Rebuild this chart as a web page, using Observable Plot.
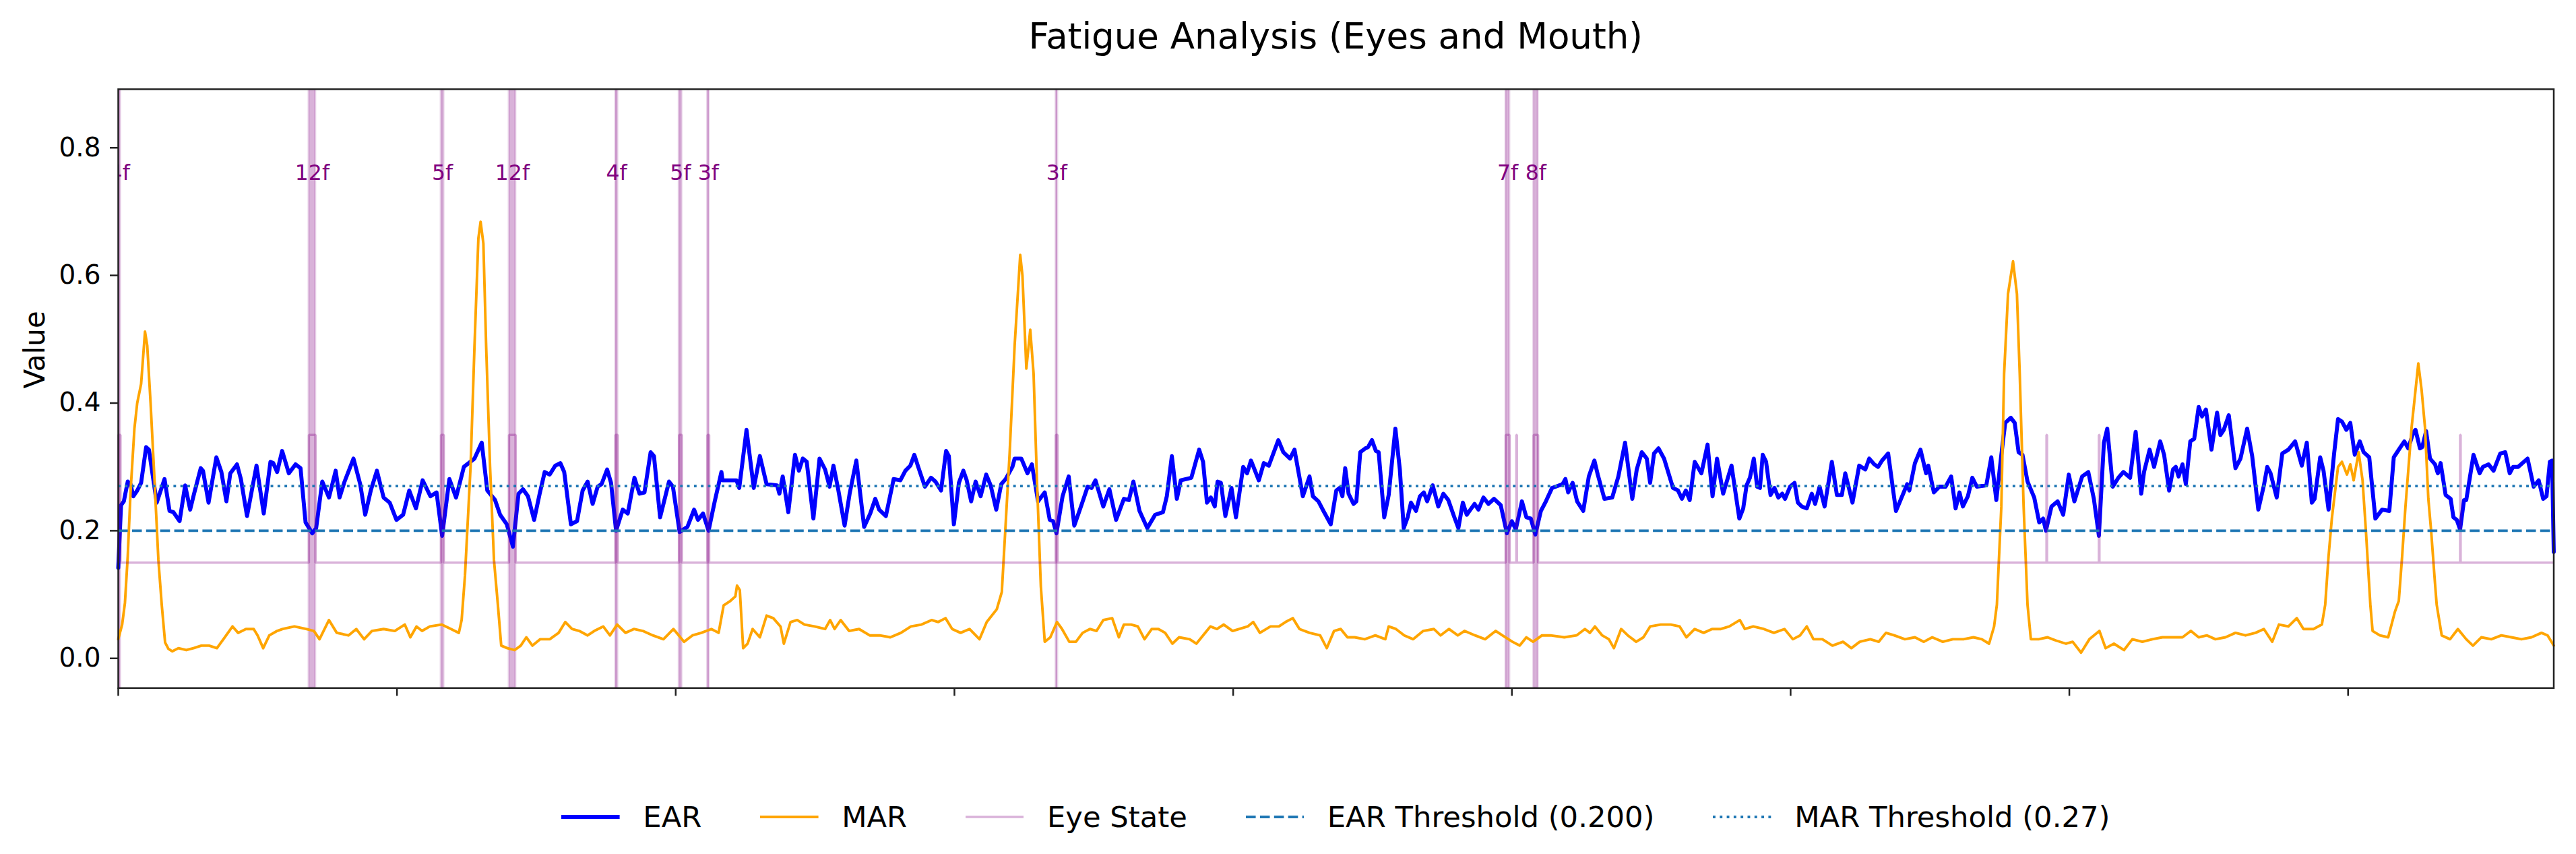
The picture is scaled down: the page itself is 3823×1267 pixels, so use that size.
<!DOCTYPE html>
<html><head><meta charset="utf-8">
<script src="https://cdn.jsdelivr.net/npm/d3@7"></script>
<script src="https://cdn.jsdelivr.net/npm/@observablehq/plot@0.6"></script>
<style>
html,body{margin:0;padding:0;background:#fff;}
body{width:3823px;height:1267px;overflow:hidden;font-family:"DejaVu Sans",sans-serif;color:#000;}
#title{height:110px;box-sizing:border-box;padding-top:27px;margin-left:175px;width:3614.5px;text-align:center;font-size:53px;line-height:53px;}
#chart{width:3823px;height:960px;}
#chart svg{display:block;}
#legend{margin-top:120.5px;margin-left:175px;width:3614.5px;display:flex;justify-content:center;align-items:center;font-size:43.3px;line-height:43px;gap:86.6px;}
.entry{display:flex;align-items:center;}
.entry svg{display:block;}
.entry span{margin-left:34.6px;white-space:pre;}
</style></head>
<body>
<div id="title">Fatigue Analysis (Eyes and Mouth)</div>
<div id="chart"></div>
<div id="legend"></div>
<script>
// ---- data (frame index, value) ----
const earFrame = [0,5,10,17,22,27,34,41,50,55,69,83,92,99,110,120,129,136,148,152,162,176,185,194,201,213,220,231,248,261,273,278,285,294,306,318,327,336,348,355,366,378,390,397,406,422,434,443,453,464,476,487,499,511,522,534,546,560,571,581,594,606,620,639,652,662,676,685,697,708,718,726,
735,746,756,765,774,784,793,800,812,823,833,842,851,860,867,877,884,893,905,914,926,935,944,955,961,972,988,995,1007,1021,1033,1040,1049,1059,1070,1082,1084,1109,1114,1127,1140,1151,1163,1182,1186,1192,1202,1214,1221,1228,1235,1247,1258,1268,1276,1283,1291,1303,1312,1324,1338,1349,1358,1365,1377,1391,1403,1412,1421,1428,1435,1447,1458,
1466,1476,1485,1490,1499,1508,1516,1522,1530,1538,1547,1557,1565,1575,1584,1592,1604,1608,1620,1631,1639,1650,1662,1671,1677,1683,1694,1705,1715,1727,1739,1746,1753,1767,1778,1790,1804,1813,1821,1832,1846,1860,1874,1881,1890,1899,1906,1925,1939,1946,1953,1960,1967,1972,1978,1986,1997,2005,2018,2025,2032,2046,2055,2064,2081,2090,2102,2110,2125,2137,2143,2153,2162,2175,2185,
2191,2196,2201,2207,2216,2221,2228,2237,2242,2249,2256,2261,2271,2279,2291,2299,2306,2313,2319,2328,2335,2342,2348,2358,2368,2377,2386,2396,2404,2412,2419,2433,2440,2449,2458,2468,2480,2491,2500,2507,2518,2526,2534,2542,2552,2561,2572,2591,2596,2601,2609,2617,2628,2638,2648,2654,2666,2680,2691,2703,2716,2724,2733,2742,2748,2755,2763,2773,2789,2798,2805,2812,2819,2828,2840,2851,2860,2868,2879,2894,2908,2915,2921,
2927,2934,2940,2945,2950,2956,2964,2971,2978,2985,2990,2999,3007,3013,3020,3029,3038,3044,3052,3061,3074,3083,3092,3098,3111,3123,3134,3141,3150,3157,3164,3175,3189,3202,3209,3213,3223,3233,3243,3247,3257,3267,3278,3288,3296,3303,3309,3318,3326,3334,3351,3360,3369,3378,3385,3395,3402,3409,3416,3425,3437,3446,3453,3458,3468,3479,3489,3499,3509,3523,3534,3544,3553,3562,3568,3578,3588,3597,3609,3619,3629,3634,3644,3652,
3663,3670,3679,3686,3691,3696,3703,3709,3717,3724,3732,3738,3745,3755,3765,3771,3777,3786,3798,3807,3819,3828,3839,3849,3855,3861,3872,3882,3893,3905,3917,3926,3935,3940,3950,3956,3965,3975,3982,3989,3997,4004,4012,4021,4028,4038,4049,4061,4074,4082,4094,4101,4108,4117,4121,4129,4133,4140,4147,4156,4161,4166,4175,4184,4189,4195,4201,4208,4212,4225,4236,4242,4252,4261,4273,4282,4290,4296,4305,4322,4333,4342,4350,4356,4362,4366,4369];
const earValue = [0.142,0.240,0.246,0.277,0.273,0.254,0.263,0.275,0.331,0.327,0.244,0.281,0.231,0.229,0.215,0.271,0.233,0.258,0.298,0.294,0.244,0.315,0.292,0.246,0.290,0.304,0.281,0.223,0.302,0.227,0.308,0.306,0.292,0.325,0.290,0.304,0.298,0.213,0.196,0.204,0.277,0.252,0.294,0.252,0.277,0.313,0.273,0.225,0.263,0.294,0.252,0.244,0.217,0.225,0.263,0.235,0.279,0.254,0.260,0.192,0.281,0.252,0.300,0.313,0.338,0.263,0.248,0.225,0.210,0.175,0.258,0.265,
0.254,0.217,0.258,0.292,0.288,0.302,0.306,0.292,0.210,0.215,0.263,0.277,0.242,0.269,0.273,0.296,0.275,0.200,0.233,0.227,0.283,0.258,0.260,0.323,0.317,0.221,0.277,0.269,0.198,0.206,0.233,0.217,0.227,0.200,0.246,0.292,0.279,0.279,0.267,0.358,0.267,0.317,0.273,0.271,0.258,0.285,0.229,0.319,0.294,0.313,0.308,0.219,0.313,0.296,0.269,0.302,0.267,0.208,0.258,0.310,0.206,0.227,0.250,0.233,0.223,0.281,0.279,0.294,0.302,0.319,0.300,0.269,0.283,
0.277,0.263,0.325,0.317,0.210,0.275,0.294,0.279,0.246,0.277,0.254,0.288,0.271,0.233,0.273,0.281,0.300,0.313,0.313,0.290,0.304,0.246,0.260,0.217,0.215,0.196,0.254,0.285,0.208,0.238,0.269,0.267,0.279,0.238,0.265,0.217,0.250,0.248,0.277,0.231,0.204,0.225,0.229,0.254,0.317,0.250,0.279,0.283,0.327,0.308,0.244,0.252,0.238,0.277,0.275,0.223,0.267,0.221,0.300,0.290,0.310,0.279,0.306,0.302,0.342,0.323,0.313,0.327,0.254,0.285,0.254,0.246,0.231,0.210,0.263,
0.267,0.254,0.298,0.258,0.242,0.246,0.323,0.329,0.331,0.342,0.325,0.323,0.221,0.256,0.360,0.296,0.204,0.221,0.244,0.231,0.254,0.260,0.246,0.271,0.238,0.258,0.248,0.223,0.204,0.244,0.225,0.242,0.233,0.252,0.242,0.250,0.240,0.196,0.215,0.202,0.246,0.221,0.219,0.194,0.231,0.246,0.267,0.273,0.281,0.260,0.275,0.246,0.231,0.285,0.310,0.288,0.250,0.252,0.285,0.338,0.250,0.296,0.323,0.313,0.275,0.321,0.329,0.313,0.267,0.263,0.250,0.263,0.248,0.308,0.290,0.335,0.254,0.313,0.258,0.302,0.219,0.235,0.271,
0.283,0.313,0.269,0.267,0.319,0.308,0.256,0.267,0.252,0.258,0.250,0.269,0.275,0.244,0.238,0.235,0.258,0.242,0.269,0.238,0.308,0.256,0.256,0.290,0.244,0.302,0.296,0.313,0.304,0.300,0.310,0.321,0.231,0.258,0.273,0.263,0.306,0.327,0.290,0.302,0.260,0.269,0.269,0.285,0.235,0.260,0.238,0.254,0.283,0.269,0.271,0.315,0.248,0.319,0.369,0.377,0.369,0.323,0.319,0.277,0.252,0.213,0.219,0.200,0.238,0.246,0.225,0.288,0.246,0.285,0.292,0.250,0.192,0.338,0.360,0.269,0.283,0.292,0.283,0.355,0.258,0.292,0.327,0.300,
0.340,0.319,0.263,0.296,0.300,0.285,0.304,0.273,0.340,0.344,0.394,0.379,0.390,0.327,0.385,0.350,0.358,0.381,0.298,0.313,0.360,0.317,0.233,0.271,0.300,0.290,0.252,0.321,0.327,0.340,0.302,0.338,0.244,0.250,0.315,0.294,0.233,0.321,0.375,0.371,0.358,0.369,0.319,0.340,0.323,0.315,0.219,0.233,0.231,0.315,0.331,0.340,0.329,0.354,0.358,0.329,0.331,0.356,0.313,0.304,0.290,0.306,0.256,0.250,0.221,0.217,0.202,0.248,0.248,0.319,0.290,0.300,0.304,0.294,0.321,0.323,0.290,0.300,0.300,0.313,0.269,0.279,0.250,0.254,0.308,0.310,0.167];

const marFrame = [0,7,12,17,22,29,34,41,48,52,58,65,72,78,84,90,97,108,122,135,149,163,177,191,205,215,229,243,250,260,271,285,295,316,337,351,361,378,392,413,427,441,455,476,496,514,524,535,545,559,580,597,611,616,622,632,639,646,650,655,660,667,674,681,687,698,711,722,732,743,757,774,790,802,814,827,842,854,870,882,895,910,925,941,959,978,996,1015,1030,1046,1064,1077,1086,1098,1107,1110,1115,1121,1129,1138,1151,1163,1175,1188,1194,1206,1218,1231,1249,1268,1277,1285,1296,1311,1329,1348,1366,1385,1404,1422,1441,1459,1471,1484,1496,1511,1527,1545,1558,1576,1585,1599,1608,1618,1622,1629,1636,1642,1648,1655,1662,1672,1684,1693,1706,1718,1730,1743,1755,1767,1783,1795,1804,1817,1829,1841,1854,1866,1878,1891,1903,1922,1934,1946,1959,1971,1983,1999,2011,2026,2036,2048,2067,2082,2094,2107,2119,2137,2156,2168,2181,2193,2205,2218,2236,2255,2273,2279,2292,2307,2323,2341,2360,2372,2387,2403,2415,2434,2452,2471,2483,2501,2514,2526,2538,2554,2569,2594,2616,2631,2640,2649,2662,2674,2683,2696,2708,2723,2736,2748,2767,2785,2801,2813,2828,2844,2859,2875,2890,2909,2918,2933,2952,2970,2989,3004,3017,3029,3041,3057,3075,3094,3109,3124,3143,3158,3171,3186,3205,3223,3239,3254,3273,3291,3310,3328,3343,3356,3365,3370,3378,3383,3390,3399,3406,3411,3418,3425,3431,3445,3461,3476,3494,3506,3521,3536,3554,3565,3580,3598,3613,3631,3649,3667,3685,3703,3718,3732,3747,3762,3780,3798,3816,3834,3849,3864,3876,3893,3908,3920,3938,3953,3959,3965,3971,3982,3989,3998,4004,4010,4019,4026,4032,4040,4044,4057,4072,4084,4091,4097,4103,4114,4126,4132,4138,4144,4149,4156,4159,4168,4183,4197,4212,4224,4239,4257,4275,4293,4311,4329,4347,4358,4369];
const marValue = [0.030,0.053,0.087,0.160,0.260,0.360,0.400,0.430,0.512,0.490,0.400,0.280,0.154,0.084,0.025,0.015,0.011,0.016,0.013,0.016,0.020,0.020,0.016,0.033,0.050,0.040,0.046,0.046,0.036,0.016,0.036,0.043,0.046,0.050,0.046,0.043,0.030,0.060,0.040,0.036,0.046,0.030,0.043,0.046,0.043,0.053,0.033,0.050,0.043,0.050,0.053,0.046,0.040,0.060,0.130,0.300,0.488,0.658,0.684,0.650,0.488,0.300,0.154,0.084,0.020,0.016,0.013,0.020,0.033,0.020,0.030,0.030,0.040,0.057,0.046,0.043,0.036,0.043,0.050,0.036,0.053,0.040,0.046,0.043,0.036,0.030,0.046,0.026,0.036,0.040,0.046,0.040,0.083,0.090,0.097,0.114,0.107,0.016,0.023,0.046,0.033,0.067,0.063,0.050,0.023,0.057,0.060,0.053,0.050,0.046,0.060,0.046,0.060,0.043,0.046,0.036,0.036,0.033,0.040,0.050,0.053,0.060,0.057,0.063,0.046,0.040,0.046,0.030,0.057,0.077,0.104,0.321,0.490,0.632,0.600,0.454,0.515,0.446,0.279,0.113,0.026,0.033,0.057,0.046,0.026,0.026,0.040,0.046,0.043,0.060,0.063,0.033,0.053,0.053,0.050,0.030,0.046,0.046,0.040,0.023,0.033,0.030,0.023,0.036,0.050,0.046,0.053,0.043,0.046,0.050,0.057,0.040,0.050,0.050,0.057,0.063,0.046,0.040,0.036,0.016,0.043,0.046,0.033,0.033,0.030,0.036,0.030,0.050,0.046,0.036,0.030,0.043,0.046,0.036,0.046,0.036,0.043,0.036,0.030,0.043,0.036,0.026,0.020,0.033,0.026,0.036,0.036,0.033,0.036,0.046,0.040,0.050,0.036,0.030,0.016,0.046,0.036,0.026,0.033,0.050,0.053,0.053,0.050,0.033,0.046,0.040,0.046,0.046,0.050,0.060,0.046,0.050,0.046,0.040,0.046,0.030,0.036,0.050,0.030,0.030,0.020,0.026,0.016,0.026,0.030,0.026,0.040,0.036,0.030,0.033,0.026,0.033,0.026,0.030,0.030,0.033,0.030,0.023,0.050,0.084,0.238,0.446,0.571,0.622,0.571,0.446,0.238,0.084,0.030,0.030,0.033,0.028,0.023,0.026,0.009,0.030,0.043,0.016,0.023,0.013,0.030,0.026,0.030,0.033,0.033,0.033,0.043,0.033,0.036,0.030,0.033,0.040,0.036,0.040,0.046,0.026,0.053,0.050,0.063,0.046,0.046,0.053,0.084,0.160,0.220,0.300,0.308,0.288,0.304,0.279,0.323,0.279,0.200,0.084,0.043,0.036,0.033,0.073,0.090,0.160,0.238,0.362,0.462,0.420,0.362,0.250,0.200,0.117,0.084,0.036,0.030,0.046,0.030,0.020,0.033,0.030,0.036,0.033,0.030,0.033,0.040,0.036,0.020];

// blink (eye closed) events: start frame and number of closed frames
const blinkStart  = [0, 342, 579, 701, 892, 1006, 1057, 1682, 2489, 2508, 2539, 3459, 3553, 4201];
const blinkFrames = [4, 12,  5,   12,  4,   5,    3,    3,    7,    1,    8,    1,    1,    1];
const minLabeledFrames = 3;

const earThreshold = 0.200;
const marThreshold = 0.27;
const eyeOpenValue = 0.15, eyeClosedValue = 0.35;
const blinkLabelValue = 0.76;

const xDomain = [0, 4369];
const yDomain = [-0.0465, 0.8917];
const xTicks = [0, 500, 1000, 1500, 2000, 2500, 3000, 3500, 4000];
const yTicks = [0.0, 0.2, 0.4, 0.6, 0.8];

const legendLabels = ["EAR", "MAR", "Eye State",
  `EAR Threshold (${earThreshold.toFixed(3)})`, `MAR Threshold (${marThreshold.toFixed(2)})`];

// ---- derived tables ----
const ear = earFrame.map((f, i) => ({frame: f, value: earValue[i]}));
const mar = marFrame.map((f, i) => ({frame: f, value: marValue[i]}));
const events = blinkStart.map((s, i) => ({start: s, end: s + blinkFrames[i], n: blinkFrames[i]}));
const bands = events.filter(e => e.n >= minLabeledFrames);
const eye = [];
for (const e of events) {
  eye.push({frame: e.start, value: eyeOpenValue}, {frame: e.start, value: eyeClosedValue},
           {frame: e.end, value: eyeClosedValue}, {frame: e.end, value: eyeOpenValue});
}
eye.push({frame: xDomain[1], value: eyeOpenValue});

// ---- styles ----
const C = {ear: "blue", mar: "orange", eye: "purple", thr: "#1f77b4", axis: "#222"};
const W = {ear: 5.9, mar: 3.9, eye: 3.5, thr: 3.9};
const dashEar = "14.6,6.3", dotMar = "3.9,6.4";

const chart = Plot.plot({
  width: 3823, height: 960,
  marginLeft: 175, marginRight: 33.5, marginTop: 21.9, marginBottom: 49.7,
  style: {fontFamily: "DejaVu Sans", fontSize: "39px", color: "black", background: "white", overflow: "visible"},
  x: {domain: xDomain},
  y: {domain: yDomain},
  marks: [
    Plot.rect(bands, {x1: "start", x2: "end", fill: C.eye, fillOpacity: 0.3, stroke: C.eye, strokeOpacity: 0.15, strokeWidth: 3, clip: true}),
    Plot.line(ear, {x: "frame", y: "value", stroke: C.ear, strokeWidth: W.ear}),
    Plot.line(mar, {x: "frame", y: "value", stroke: C.mar, strokeWidth: W.mar}),
    Plot.line(eye, {x: "frame", y: "value", stroke: C.eye, strokeOpacity: 0.3, strokeWidth: W.eye, strokeLinecap: "butt", strokeLinejoin: "miter"}),
    Plot.ruleY([earThreshold], {stroke: C.thr, strokeWidth: W.thr, strokeDasharray: dashEar}),
    Plot.ruleY([marThreshold], {stroke: C.thr, strokeWidth: W.thr, strokeDasharray: dotMar}),
    Plot.text(bands, {x: d => (d.start + d.end) / 2, y: () => blinkLabelValue, text: d => `${d.n}f`, fill: "purple", fontSize: 31.5, clip: true}),
    Plot.frame({stroke: C.axis, strokeWidth: 2.5}),
    Plot.axisY({ticks: yTicks, tickFormat: d3.format(".1f"), tickSize: 12, tickPadding: 14, stroke: C.axis, strokeWidth: 2.5, fill: "black", label: null}),
    Plot.axisX({ticks: xTicks, tickSize: 12, stroke: C.axis, strokeWidth: 2.5, fill: "none", label: null}),
    Plot.text(["Value"], {frameAnchor: "left", dx: -123.3, rotate: -90, text: d => d, fontSize: 42, fill: "black"})
  ]
});
document.getElementById("chart").appendChild(chart);

// ---- legend ----
const legendStyles = [
  {stroke: C.ear, w: W.ear},
  {stroke: C.mar, w: W.mar},
  {stroke: C.eye, w: W.eye, op: 0.3},
  {stroke: C.thr, w: W.thr, dash: dashEar},
  {stroke: C.thr, w: W.thr, dash: dotMar}
];
const legend = document.getElementById("legend");
legendLabels.forEach((lab, i) => {
  const s = legendStyles[i];
  const entry = document.createElement("div");
  entry.className = "entry";
  entry.innerHTML = `<svg width="86.6" height="24"><line x1="0" x2="86.6" y1="12" y2="12" stroke="${s.stroke}" stroke-width="${s.w}" ${s.op ? `stroke-opacity="${s.op}"` : ""} ${s.dash ? `stroke-dasharray="${s.dash}"` : ""}/></svg>`;
  const t = document.createElement("span");
  t.textContent = lab;
  entry.appendChild(t);
  legend.appendChild(entry);
});
</script>
</body></html>
